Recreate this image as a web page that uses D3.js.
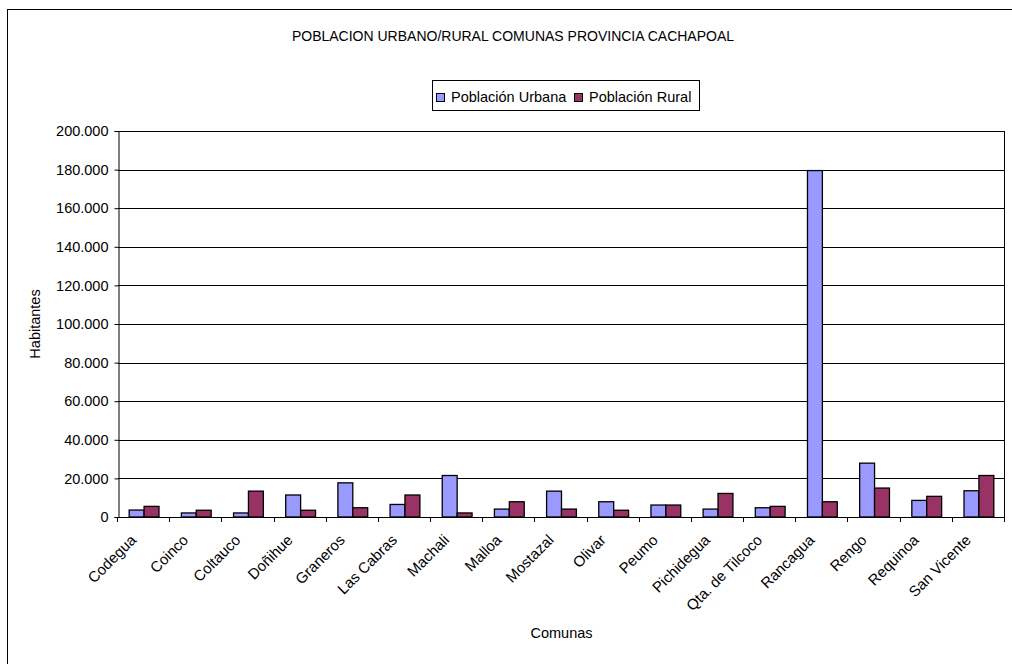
<!DOCTYPE html>
<html>
<head>
<meta charset="utf-8">
<script src="https://cdn.jsdelivr.net/npm/d3@7"></script>
<style>
    body { margin: 0; background: #fff; }
    text { font-family: "Liberation Sans", Arial, sans-serif; fill: #000; }
</style>
</head>
<body>
<svg id="chart" width="1012" height="664"></svg>
<script>
"use strict";

var comunas = ['Codegua', 'Coinco', 'Coltauco', 'Doñihue', 'Graneros', 'Las Cabras', 'Machali',
    'Malloa', 'Mostazal', 'Olivar', 'Peumo', 'Pichidegua', 'Qta. de Tilcoco', 'Rancagua',
    'Rengo', 'Requinoa', 'San Vicente'];
var series = ['Población Urbana', 'Población Rural'];
var urbana = [3600, 2100, 2100, 11400, 17700, 6500, 21500, 4100, 13400, 7900, 6200, 4100, 4800, 179500, 27900, 8600, 13600];
var rural = [5500, 3500, 13400, 3500, 4800, 11400, 2100, 7900, 4100, 3500, 6200, 12200, 5500, 7900, 15000, 10700, 21500];
var yTicks = [0, 20000, 40000, 60000, 80000, 100000, 120000, 140000, 160000, 180000, 200000];
var colors = ['#9999FF', '#993366'];

var svg = d3.select('#chart');

// plot area bounds
var plotLeft = 118, plotRight = 1005, plotTop = 131, plotBottom = 517;

var locale = d3.formatLocale({ decimal: ',', thousands: '.', grouping: [3], currency: ['$', ''] });
var fmt = locale.format(',d');

var x0 = d3.scaleBand().domain(comunas).range([plotLeft, plotRight]).padding(0);
var x1 = d3.scaleBand().domain(series).range([0, x0.bandwidth()]).paddingInner(0).paddingOuter(0.75);
var y = d3.scaleLinear().domain([0, 200000]).range([plotBottom, plotTop]);

// outer chart border
svg.append('rect')
    .attr('x', 7.5).attr('y', 9.5)
    .attr('width', 1020).attr('height', 680)
    .attr('fill', 'none').attr('stroke', '#000');

// gridlines
svg.append('g').selectAll('line')
    .data(yTicks.slice(1))
    .enter().append('line')
    .attr('x1', plotLeft).attr('x2', plotRight)
    .attr('y1', function (d) { return Math.round(y(d)) + 0.5; })
    .attr('y2', function (d) { return Math.round(y(d)) + 0.5; })
    .attr('stroke', '#000');

// right edge of plot area
svg.append('line')
    .attr('x1', plotRight - 0.5).attr('x2', plotRight - 0.5)
    .attr('y1', Math.round(y(200000)) + 0.5).attr('y2', plotBottom)
    .attr('stroke', '#000');

// bars
var rows = comunas.map(function (c, i) { return { comuna: c, values: [urbana[i], rural[i]] }; });
var groups = svg.append('g').selectAll('g')
    .data(rows)
    .enter().append('g')
    .attr('transform', function (d) { return 'translate(' + x0(d.comuna) + ',0)'; });

groups.selectAll('rect')
    .data(function (d) { return d.values.map(function (v, j) { return { s: series[j], v: v, j: j }; }); })
    .enter().append('rect')
    .attr('x', function (d) { return x1(d.s); })
    .attr('width', x1.bandwidth())
    .attr('y', function (d) { return y(d.v); })
    .attr('height', function (d) { return plotBottom - y(d.v); })
    .attr('fill', function (d) { return colors[d.j]; })
    .attr('stroke', '#000')
    .attr('stroke-width', 1.3);

// y axis
var yAxis = d3.axisLeft(y).tickValues(yTicks).tickFormat(fmt).tickSize(4).tickPadding(6);
var yg = svg.append('g')
    .attr('transform', 'translate(' + (plotLeft + 0.5) + ',0)')
    .call(yAxis);
yg.select('.domain').attr('stroke', '#000');
yg.selectAll('text').style('font-size', '14.5px').attr('fill', '#000');

// x axis line and ticks between categories
svg.append('line')
    .attr('x1', plotLeft).attr('x2', plotRight)
    .attr('y1', plotBottom + 0.5).attr('y2', plotBottom + 0.5)
    .attr('stroke', '#000');
var bounds = comunas.map(function (c) { return x0(c); }).concat([plotRight]);
svg.append('g').selectAll('line')
    .data(bounds)
    .enter().append('line')
    .attr('x1', function (d) { return Math.round(d) - 0.5; })
    .attr('x2', function (d) { return Math.round(d) - 0.5; })
    .attr('y1', plotBottom).attr('y2', plotBottom + 5)
    .attr('stroke', '#000');

// category labels, rotated
svg.append('g').selectAll('text')
    .data(comunas)
    .enter().append('text')
    .attr('text-anchor', 'end')
    .attr('transform', function (d) {
        return 'translate(' + (x0(d) + x0.bandwidth() / 2 - 7) + ',' + (plotBottom + 24) + ') rotate(-45)';
    })
    .style('font-size', '15px')
    .text(function (d) { return d; });

// titles
svg.append('text')
    .attr('x', 513).attr('y', 41)
    .attr('text-anchor', 'middle')
    .style('font-size', '14px')
    .text('POBLACION URBANO/RURAL COMUNAS PROVINCIA CACHAPOAL');

svg.append('text')
    .attr('transform', 'translate(40,' + ((plotTop + plotBottom) / 2) + ') rotate(-90)')
    .attr('text-anchor', 'middle')
    .style('font-size', '14.5px')
    .text('Habitantes');

svg.append('text')
    .attr('x', (plotLeft + plotRight) / 2).attr('y', 638)
    .attr('text-anchor', 'middle')
    .style('font-size', '14.5px')
    .text('Comunas');

// legend
var legend = svg.append('g');
legend.append('rect')
    .attr('x', 432.5).attr('y', 80.5)
    .attr('width', 267).attr('height', 30)
    .attr('fill', '#fff').attr('stroke', '#000');
var legendX = [436, 574];
series.forEach(function (s, i) {
    legend.append('rect')
        .attr('x', legendX[i] + 0.5).attr('y', 93.5)
        .attr('width', 8).attr('height', 8)
        .attr('fill', colors[i]).attr('stroke', '#000');
    legend.append('text')
        .attr('x', legendX[i] + 15).attr('y', 102)
        .style('font-size', '14.5px')
        .text(s);
});
</script>
</body>
</html>
